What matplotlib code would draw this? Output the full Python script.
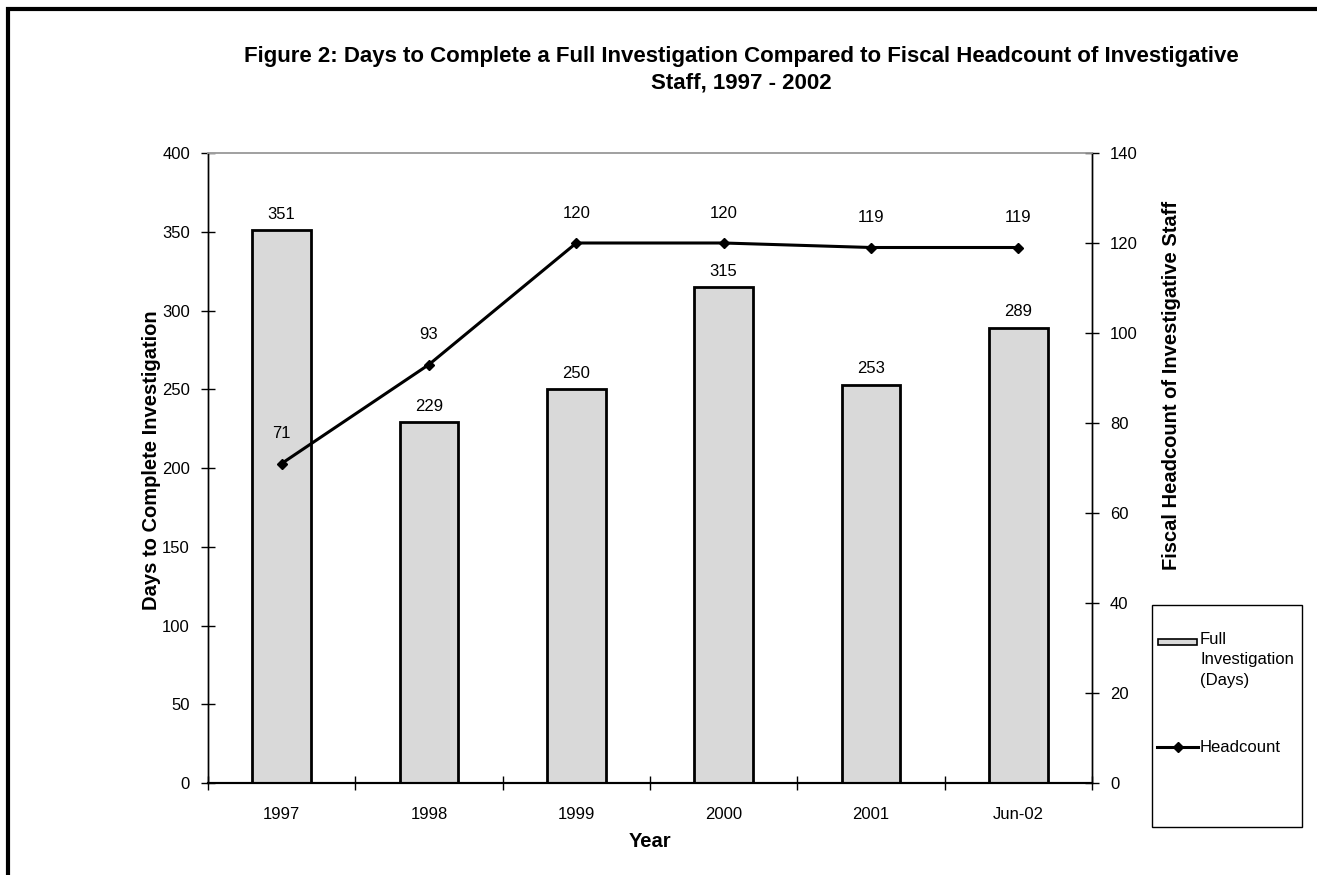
import matplotlib.pyplot as plt
from matplotlib.patches import Rectangle
from matplotlib.lines import Line2D
import numpy as np

years = ["1997", "1998", "1999", "2000", "2001", "Jun-02"]
days = [351, 229, 250, 315, 253, 289]
headcount = [71, 93, 120, 120, 119, 119]

plt.rcParams['font.family'] = ['Liberation Sans', 'DejaVu Sans']

W, H = 1317, 875
L, R, T, B = 208, 1092, 153, 783


def fx(px):
    return px / W


def fy(py):
    return 1 - py / H


fig = plt.figure(figsize=(W / 100, H / 100), dpi=100)
ax = fig.add_axes([fx(L), fy(B), (R - L) / W, (B - T) / H])
ax2 = ax.twinx()

# outer chart frame (cropped at right/bottom)
fig.patches.append(Rectangle((fx(8), -0.05), 1.2, fy(9) + 0.05, transform=fig.transFigure,
                             fill=False, edgecolor='black', linewidth=3))

x = np.arange(len(years))
bars = ax.bar(x, days, width=0.4, color='#d9d9d9', edgecolor='black', linewidth=2)
ax.set_xlim(-0.5, len(years) - 0.5)
ax.set_ylim(0, 400)
ax.set_yticks(range(0, 401, 50))
ax.set_xticks(x)
ax.set_xticklabels(years)
ax.set_xticks(np.arange(-0.5, len(years), 1), minor=True)
ax.tick_params(axis='x', which='major', length=0, pad=17, labelsize=12)
ax.tick_params(axis='x', which='minor', direction='inout', length=10, width=1)
ax.tick_params(axis='y', direction='inout', length=10, width=1, labelsize=12, pad=8)
for d, xi in zip(days, x):
    ax.annotate(str(d), (xi, d), xytext=(0, 6), textcoords='offset points',
                ha='center', va='bottom', fontsize=12)

line, = ax2.plot(x, headcount, color='black', linewidth=2.2, marker='D', markersize=5)
ax2.set_ylim(0, 140)
ax2.set_yticks(range(0, 141, 20))
ax2.tick_params(axis='y', direction='inout', length=10, width=1, labelsize=12, pad=8)
for h, xi in zip(headcount, x):
    ax2.annotate(str(h), (xi, h), xytext=(0, 16), textcoords='offset points',
                 ha='center', va='bottom', fontsize=12)

for a in (ax, ax2):
    a.spines['top'].set_color('#a0a0a0')
    a.spines['top'].set_linewidth(1.2)
    a.spines['left'].set_linewidth(1)
    a.spines['right'].set_linewidth(1)
    a.spines['bottom'].set_linewidth(1.5)

ax.set_ylabel('Days to Complete Investigation', fontsize=14.5, fontweight='bold')
ax.yaxis.set_label_coords((161 - L) / (R - L), (B - 460) / (B - T))
ax2.set_ylabel('Fiscal Headcount of Investigative Staff', fontsize=14.5, fontweight='bold',
               rotation=90)
ax2.yaxis.set_label_coords((1162 - L) / (R - L), (B - 385) / (B - T))
ax.set_xlabel('Year', fontsize=14.5, fontweight='bold')
ax.xaxis.set_label_coords(0.5, -(832 - B) / (B - T))

fig.text(fx(741), fy(70), 'Figure 2: Days to Complete a Full Investigation Compared to Fiscal Headcount of Investigative\nStaff, 1997 - 2002',
         ha='center', va='center', fontsize=16, fontweight='bold', linespacing=1.35)

# legend box
fig.patches.append(Rectangle((fx(1152), fy(827)), (1302 - 1152) / W, (827 - 605) / H,
                             transform=fig.transFigure, fill=False, edgecolor='black',
                             linewidth=1))
fig.patches.append(Rectangle((fx(1158), fy(645)), 39 / W, 6 / H, transform=fig.transFigure,
                             facecolor='#d9d9d9', edgecolor='black', linewidth=1.2))
fig.lines.append(Line2D([fx(1157), fx(1198)], [fy(747), fy(747)], transform=fig.transFigure,
                        color='black', linewidth=2.2))
fig.lines.append(Line2D([fx(1177.5)], [fy(747)], transform=fig.transFigure,
                        color='black', marker='D', markersize=5, linestyle='none'))
fig.text(fx(1200), fy(632), 'Full\nInvestigation\n(Days)', ha='left', va='top',
         fontsize=12, linespacing=1.45)
fig.text(fx(1200), fy(747), 'Headcount', ha='left', va='center', fontsize=12)

fig.savefig('out.png', dpi=100)
